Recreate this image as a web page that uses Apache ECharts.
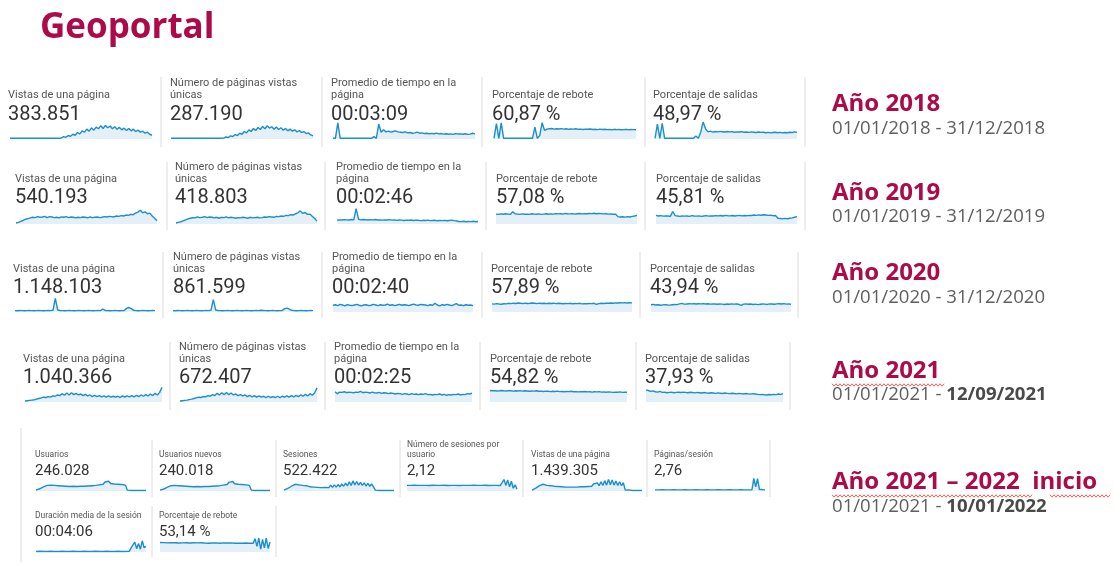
<!DOCTYPE html>
<html>
<head>
<meta charset="utf-8">
<title>Geoportal</title>
<script src="https://cdn.jsdelivr.net/npm/echarts@6/dist/echarts.min.js"></script>
<style>
  html, body { margin: 0; padding: 0; background: #fff; }
  #chart { width: 1114px; height: 565px; }
</style>
</head>
<body>
<div id="chart"></div>
<script>
// textos
var titulo = 'Geoportal';
var anios = ['Año 2018', 'Año 2019', 'Año 2020', 'Año 2021', 'Año 2021 – 2022  inicio'];
var fechasInicio = ['01/01/2018 - ', '01/01/2019 - ', '01/01/2020 - ', '01/01/2021 - ', '01/01/2021 - '];
var fechasFin = ['31/12/2018', '31/12/2019', '31/12/2020', '12/09/2021', '10/01/2022'];
var finNegrita = [false, false, false, true, true];

var etiquetasAnual = ['Vistas de una página', 'Número de páginas vistas\núnicas', 'Promedio de tiempo en la\npágina', 'Porcentaje de rebote', 'Porcentaje de salidas'];
var valores2018 = ['383.851', '287.190', '00:03:09', '60,87 %', '48,97 %'];
var valores2019 = ['540.193', '418.803', '00:02:46', '57,08 %', '45,81 %'];
var valores2020 = ['1.148.103', '861.599', '00:02:40', '57,89 %', '43,94 %'];
var valores2021 = ['1.040.366', '672.407', '00:02:25', '54,82 %', '37,93 %'];
var etiquetasSesion = ['Usuarios', 'Usuarios nuevos', 'Sesiones', 'Número de sesiones por\nusuario', 'Vistas de una página', 'Páginas/sesión', 'Duración media de la sesión', 'Porcentaje de rebote'];
var valoresSesion = ['246.028', '240.018', '522.422', '2,12', '1.439.305', '2,76', '00:04:06', '53,14 %'];

// minigráficos (altura relativa 0-100)
var vistas2018 = [4,4,4,4,4,4,4,4,4,4,4,4,4,4,4,4,4,4,4,4,4,4,6,14,10,20,16,28,22,38,30,48,40,58,46,66,52,70,60,78,62,80,66,76,60,72,58,68,54,64,50,62,48,58,44,52,40,46,34,40,28,22];
var unicas2018 = [4,4,4,4,4,4,4,4,4,4,4,4,4,4,4,4,4,4,4,4,4,4,4,5,12,9,18,15,26,20,34,28,44,36,54,44,62,50,68,56,74,60,78,64,72,58,70,56,66,52,62,48,58,46,54,42,50,38,44,32,36,24,18];
var tiempo2018 = [4,4,95,4,4,4,4,4,4,4,4,4,4,4,4,4,4,14,4,88,40,55,42,46,40,44,48,42,40,38,42,36,38,34,36,40,34,36,32,34,30,33,31,35,30,32,29,31,28,30,27,32,29,30,28,31,27,29,34,30];
var rebote2018 = [4,90,4,95,4,4,4,4,4,4,4,4,4,4,4,4,4,70,4,20,96,50,58,60,62,58,60,59,61,58,60,57,59,58,60,57,58,56,58,57,59,56,57,55,58,56,57,55,56,54,57,55,56,54,55,57,54,56,55,54];
var salidas2018 = [4,88,4,92,4,4,4,4,4,4,4,4,4,4,4,4,4,18,4,40,100,60,42,46,40,44,42,45,43,41,44,42,43,40,42,41,43,40,41,39,42,40,38,41,39,40,37,39,36,38,40,37,39,36,38,37,40,38,42,39];

var vistas2019 = [6,10,16,22,30,34,38,42,40,46,42,44,48,40,46,44,40,42,38,44,42,46,40,44,42,38,42,40,44,42,38,44,40,42,44,40,42,46,44,48,46,44,50,48,52,50,56,54,60,58,68,74,86,70,76,64,68,50,36,20];
var unicas2019 = [6,10,14,20,26,32,36,40,38,44,40,42,46,40,44,42,38,42,36,42,40,44,38,42,40,36,40,38,42,40,36,42,38,40,42,38,40,44,42,46,44,42,48,46,50,48,54,52,58,56,64,70,82,66,72,60,62,48,34,18];
var tiempo2019 = [24,26,25,27,26,25,28,26,96,30,26,28,27,25,27,26,28,25,26,24,26,25,27,24,25,23,25,24,22,24,23,25,22,24,23,21,23,22,24,21,22,23,20,22,21,23,20,22,24,21,19,16,15,17,14,16,15,17,14,16];
var rebote2019 = [62,60,63,61,64,62,60,76,64,62,60,63,61,62,60,64,62,61,63,60,62,64,61,63,62,65,63,64,62,66,64,63,65,62,64,66,63,65,64,66,65,67,64,66,65,63,64,62,63,61,62,46,44,45,43,46,44,48,50,54];
var salidas2019 = [54,50,52,49,51,50,48,78,52,50,48,51,49,50,48,52,50,49,51,48,50,52,49,51,50,52,51,53,50,54,52,51,53,50,52,54,51,53,52,54,53,56,54,57,55,58,56,54,55,52,53,36,34,32,35,33,36,38,42,46];

var vistas2020 = [10,9,11,10,9,10,11,10,9,10,11,10,9,10,11,10,12,98,14,11,10,9,10,11,10,9,10,11,10,9,10,11,10,9,10,11,10,20,11,10,9,10,11,10,9,10,11,26,32,24,12,10,9,10,11,10,9,10,11,10];
var unicas2020 = [10,9,11,10,9,10,11,10,9,10,11,10,9,10,11,10,12,88,14,11,10,9,10,11,10,9,10,11,10,9,10,11,10,9,10,11,10,12,11,10,9,10,11,10,9,10,11,22,28,20,12,10,9,10,11,10,9,10,11,10];
var tiempo2020 = [48,52,46,54,50,44,52,48,46,50,54,48,44,50,52,46,48,54,50,46,52,48,50,56,48,52,46,50,54,48,52,50,46,52,56,50,48,54,52,50,46,52,48,62,50,44,52,48,54,50,46,52,60,48,50,46,52,48,50,46];
var rebote2020 = [58,56,60,57,55,59,58,62,60,63,61,64,62,60,63,61,62,64,62,60,63,61,62,60,62,61,63,60,62,61,59,61,60,62,59,61,60,62,58,60,59,61,60,62,54,60,62,61,63,62,64,63,65,64,66,65,67,64,66,65];
var salidas2020 = [52,54,50,52,48,51,53,50,49,52,54,53,58,62,56,57,59,58,60,57,59,58,60,57,59,56,58,57,55,57,56,54,57,55,58,56,57,55,48,56,58,55,57,54,56,53,55,57,56,54,58,57,55,58,59,57,60,56,58,55];

var vistas2021 = [6,8,10,12,14,18,22,26,30,28,34,30,38,36,44,40,52,42,56,44,58,46,54,44,50,40,48,38,44,34,42,34,40,32,38,30,38,30,36,30,36,28,38,30,38,32,40,32,42,34,44,36,46,38,50,40,54,44,60,92];
var unicas2021 = [6,8,10,12,15,18,22,26,30,28,34,32,40,36,46,40,54,44,58,46,60,46,56,44,50,40,46,38,44,34,42,32,40,30,38,30,36,28,36,28,34,28,36,28,36,30,38,30,40,32,42,34,44,36,48,38,52,42,58,88];
var tiempo2021 = [64,52,62,60,64,58,62,60,58,62,60,66,58,62,60,56,62,58,56,60,54,58,56,52,56,54,50,54,52,48,52,50,46,52,48,50,46,50,48,52,46,48,44,48,46,50,44,48,42,46,44,48,46,50,44,48,46,52,50,56];
var rebote2021 = [72,70,71,69,70,72,70,69,71,70,68,70,69,71,68,70,69,67,69,68,70,67,68,66,68,67,65,67,66,68,65,66,64,66,65,67,64,65,63,65,64,66,63,64,62,64,63,65,62,63,61,63,62,60,62,61,63,60,62,61];
var salidas2021 = [74,72,66,70,64,62,66,60,62,58,60,62,58,60,61,59,62,60,58,61,59,57,60,58,56,59,57,55,58,56,54,57,55,53,56,54,52,55,53,51,54,52,50,53,51,49,52,50,48,46,48,45,44,47,45,48,46,50,48,52];

var usuarios = [6,10,16,22,30,36,40,44,42,46,40,44,38,42,36,40,34,38,32,38,34,36,32,38,34,38,34,40,36,42,38,44,40,48,44,56,48,64,52,70,54,66,50,62,48,58,46,54,42,6,4,4,4,4,4,4,4,4,4,4];
var usuariosNuevos = [6,10,14,20,28,34,38,42,40,44,38,42,36,40,34,38,32,36,30,36,32,34,30,36,32,36,32,38,34,40,36,42,38,46,42,54,46,62,50,68,52,64,48,60,46,56,44,52,40,6,4,4,4,4,4,4,4,4,4,4];
var sesiones = [6,10,18,26,34,42,48,52,44,54,40,50,38,48,30,44,28,42,26,40,24,38,26,40,24,42,26,44,28,46,30,50,34,56,36,66,40,72,44,68,42,62,40,58,36,54,34,50,30,6,4,4,4,4,4,4,4,4,4,4];
var sesionesPorUsuario = [40,41,40,40,41,40,40,39,40,41,40,40,39,40,41,40,40,39,40,40,41,40,39,40,40,41,40,40,39,40,40,41,40,39,40,40,41,40,40,39,40,40,41,40,39,40,40,41,40,40,39,60,82,40,78,30,70,20,44,12];
var vistasPagina = [6,12,20,30,38,44,48,44,40,42,38,40,34,36,32,34,30,32,28,32,28,34,28,34,28,36,30,38,30,40,32,44,34,50,36,58,38,66,40,74,42,82,44,78,42,72,40,66,38,60,6,4,8,4,4,6,4,4,4,4];
var paginasSesion = [8,9,8,8,9,8,8,9,8,8,9,8,8,9,8,8,9,8,8,9,8,8,9,8,8,9,8,8,9,8,8,9,8,8,9,8,8,9,8,8,9,8,8,9,8,8,9,8,8,9,8,8,9,90,30,88,12,10,9,8];
var duracionSesion = [4,4,5,4,4,5,4,4,5,4,4,5,4,4,5,4,4,5,4,4,5,4,4,5,4,4,5,4,4,5,4,4,5,4,4,5,4,4,5,4,4,5,4,4,5,4,4,5,4,4,5,30,18,70,24,60,20,80,30,40];
var reboteSesion = [68,66,67,66,65,66,67,65,66,65,64,66,65,64,66,65,64,65,66,64,65,64,66,65,64,65,63,65,64,63,65,64,63,64,65,63,64,63,65,64,63,64,62,64,63,62,64,63,62,64,63,95,40,100,20,90,30,100,25,70];

var GRANATE = '#AD0A4A';
var AZUL = '#1A8FCC';
var AREA = '#E4EFF7';
var DIVISOR = '#DCDCDC';

// filas de tarjetas (posiciones en px)
var filas = [
  { etq: etiquetasAnual, val: valores2018, datos: [vistas2018, unicas2018, tiempo2018, rebote2018, salidas2018],
    x: [8, 170, 331, 492, 653], sx: [10, 171, 333, 494, 655], sw: 142, etqY: 95, valY: 115, gTop: 122, gH: 17,
    div: [161, 322, 482, 645, 805], dTop: 77, dBot: 147, fE: 11, lh: 11.5, fV: 20 },
  { etq: etiquetasAnual, val: valores2019, datos: [vistas2019, unicas2019, tiempo2019, rebote2019, salidas2019],
    x: [15, 175, 336, 496, 656], sx: [16, 176, 337, 496, 656], sw: 141, etqY: 179, valY: 198, gTop: 208, gH: 16,
    div: [167, 325, 486, 645, 805], dTop: 162, dBot: 230, fE: 11, lh: 11.5, fV: 20 },
  { etq: etiquetasAnual, val: valores2020, datos: [vistas2020, unicas2020, tiempo2020, rebote2020, salidas2020],
    x: [13, 173, 332, 491, 650], sx: [15, 173, 333, 492, 651], sw: 140, etqY: 269, valY: 288, gTop: 298, gH: 14,
    div: [163, 322, 482, 640, 798], dTop: 252, dBot: 318, fE: 11, lh: 11.5, fV: 20 },
  { etq: etiquetasAnual, val: valores2021, datos: [vistas2021, unicas2021, tiempo2021, rebote2021, salidas2021],
    x: [23, 179, 334, 490, 645], sx: [25, 180, 335, 490, 646], sw: 137, etqY: 359, valY: 378, gTop: 386, gH: 16,
    div: [170, 325, 480, 636, 790], dTop: 342, dBot: 410, fE: 11, lh: 11.5, fV: 20 },
  { etq: etiquetasSesion.slice(0, 6), val: valoresSesion.slice(0, 6),
    datos: [usuarios, usuariosNuevos, sesiones, sesionesPorUsuario, vistasPagina, paginasSesion],
    x: [35, 159, 283, 407, 531, 654], sx: [36, 160, 284, 407, 532, 655], sw: 110, etqY: 455, valY: 471, gTop: 477, gH: 14,
    div: [152, 276, 400, 523, 647, 770], dTop: 440, dBot: 497, fE: 8.5, lh: 10, fV: 15 },
  { etq: etiquetasSesion.slice(6), val: valoresSesion.slice(6), datos: [duracionSesion, reboteSesion],
    x: [35, 159], sx: [36, 160], sw: 110, etqY: 516, valY: 532, gTop: 538, gH: 14,
    div: [152, 276], dTop: 506, dBot: 557, fE: 8.5, lh: 10, fV: 15 }
];
var aniosY = [104, 193, 273, 371, 482];
var fechasY = [129, 217, 298, 395, 507];

var grids = [], xAxes = [], yAxes = [], series = [], graficos = [];

graficos.push({ type: 'text', style: { x: 40, y: 28, text: titulo, fill: GRANATE, font: 'bold 35px "Open Sans"', verticalAlign: 'middle' } });

filas.forEach(function (f) {
  f.datos.forEach(function (d, k) {
    var i = grids.length;
    grids.push({ left: f.sx[k], top: f.gTop, width: f.sw, height: f.gH });
    xAxes.push({ type: 'category', gridIndex: i, show: false, boundaryGap: false, data: d.map(function (v, j) { return j; }) });
    yAxes.push({ type: 'value', gridIndex: i, show: false, min: 0, max: 100 });
    series.push({
      type: 'line', xAxisIndex: i, yAxisIndex: i, data: d, symbol: 'none', silent: true,
      lineStyle: { color: AZUL, width: 1.4 }, areaStyle: { color: AREA, opacity: 1 }
    });
    graficos.push({ type: 'text', style: {
      x: f.x[k], y: f.etqY + f.lh / 2, text: f.etq[k], fill: '#555', font: f.fE + 'px Roboto',
      lineHeight: f.lh, verticalAlign: 'bottom' } });
    graficos.push({ type: 'text', style: {
      x: f.x[k], y: f.valY, text: f.val[k], fill: '#333', font: f.fV + 'px Roboto', verticalAlign: 'middle' } });
  });
  f.div.forEach(function (dx) {
    graficos.push({ type: 'line', shape: { x1: dx, y1: f.dTop, x2: dx, y2: f.dBot }, style: { stroke: DIVISOR, lineWidth: 1 } });
  });
});
// línea a la izquierda del bloque de sesiones
graficos.push({ type: 'line', shape: { x1: 21, y1: 428, x2: 21, y2: 562 }, style: { stroke: DIVISOR, lineWidth: 1 } });

// subrayado ondulado del corrector
function ondulado(x0, x1, y) {
  var pts = [];
  for (var x = x0, k = 0; x <= x1; x += 2, k++) pts.push([x, y + (k % 2 ? 1.2 : -1.2)]);
  return { type: 'polyline', shape: { points: pts }, style: { stroke: '#E53935', lineWidth: 0.8, fill: null } };
}

anios.forEach(function (a, k) {
  graficos.push({ type: 'text', style: { x: 832, y: aniosY[k], text: a, fill: GRANATE, font: 'bold 24px "Open Sans"', verticalAlign: 'middle' } });
  graficos.push({ type: 'text', style: {
    x: 832, y: fechasY[k], verticalAlign: 'middle',
    text: '{n|' + fechasInicio[k] + '}{' + (finNegrita[k] ? 'b' : 'n') + '|' + fechasFin[k] + '}',
    rich: {
      n: { fontSize: 18.6, fontFamily: 'Open Sans', fill: '#5f5f5f' },
      b: { fontSize: 18.6, fontFamily: 'Open Sans', fontWeight: 'bold', fill: '#4a4a4a' }
    } } });
});
graficos.push(ondulado(832, 944, 385));
graficos.push(ondulado(832, 1032, 496));
graficos.push(ondulado(1050, 1110, 496));

var chart = echarts.init(document.getElementById('chart'));
chart.setOption({
  backgroundColor: '#fff',
  animation: false,
  grid: grids,
  xAxis: xAxes,
  yAxis: yAxes,
  series: series,
  graphic: graficos
});
</script>
</body>
</html>
